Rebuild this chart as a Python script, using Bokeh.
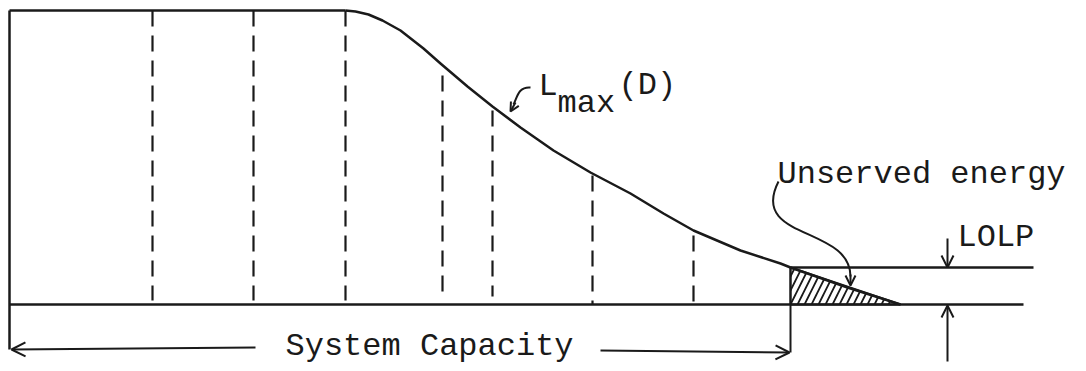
from bokeh.plotting import figure
from bokeh.models import Range1d, Arrow, OpenHead
from bokeh.core.properties import value
from bokeh.embed import file_html
from bokeh.resources import INLINE

# ---- data (diagram units: x = capacity, y = load, y grows downward) ----
top_y = 10
base_y = 304
left_x = 9
flat_end_x = 345

curve_x = [345, 355, 368, 382, 400, 423, 440, 467, 492, 520, 553, 590, 630, 663, 693, 740, 780, 790, 847, 900]
curve_y = [10, 11, 14, 20, 30, 48, 63, 86, 106, 127, 150, 172, 193, 213, 230, 250, 263, 267, 287, 304]

divider_x = [152, 253, 345, 442, 492, 592, 693]
divider_top = [10, 10, 10, 75, 110, 175, 235]
divider_bottom = [300, 300, 300, 294, 296, 304, 304]

capacity_x = 790
lolp_y = 267
lolp_line_end = 1033
base_line_end = 1023
lolp_arrow_x = 947

hatch_x = [790, 900, 790]
hatch_y = [267, 304, 304]

labels = ["System Capacity", "Unserved energy", "LOLP", "L", "max", "(D)"]
label_x = [285, 777, 957, 538, 557, 618]
label_y = [346, 174, 237, 86, 103, 85]

FONT = value("Liberation Mono")
INK = "#1a1a1a"

p = figure(width=1086, height=371, output_backend="svg", toolbar_location=None,
           x_range=Range1d(0, 1086), y_range=Range1d(371, 0), min_border=0)
p.axis.visible = False
p.grid.visible = False
p.outline_line_color = None
p.background_fill_color = "white"
p.border_fill_color = "white"

# hatched unserved energy region
p.patch(hatch_x, hatch_y, fill_color="white", line_color=INK, line_width=2,
        hatch_pattern="/", hatch_scale=14, hatch_weight=1.8, hatch_color=INK)

# frame lines
p.line([left_x, left_x], [top_y, 349], line_color=INK, line_width=2.5)
p.line([left_x, flat_end_x], [top_y, top_y], line_color=INK, line_width=2.5)
p.line([left_x, base_line_end], [base_y, base_y], line_color=INK, line_width=2.5)
p.line(curve_x, curve_y, line_color=INK, line_width=2.5, line_join="round")
p.line([capacity_x, lolp_line_end], [lolp_y, lolp_y], line_color=INK, line_width=2.5)
p.line([capacity_x, capacity_x], [lolp_y, 352], line_color=INK, line_width=2)

# dashed dividers
p.segment(x0=divider_x, y0=divider_top, x1=divider_x, y1=divider_bottom,
          line_color=INK, line_width=2.2, line_dash="16 9")

# System capacity arrows
p.add_layout(Arrow(end=OpenHead(size=14, line_width=2, line_color=INK),
                   x_start=255, y_start=347, x_end=11, y_end=349,
                   line_color=INK, line_width=2))
p.add_layout(Arrow(end=OpenHead(size=14, line_width=2, line_color=INK),
                   x_start=600, y_start=350, x_end=789, y_end=352,
                   line_color=INK, line_width=2))

# LOLP arrows
p.add_layout(Arrow(end=OpenHead(size=12, line_width=2, line_color=INK),
                   x_start=lolp_arrow_x, y_start=238, x_end=lolp_arrow_x, y_end=lolp_y,
                   line_color=INK, line_width=2))
p.add_layout(Arrow(end=OpenHead(size=12, line_width=2, line_color=INK),
                   x_start=lolp_arrow_x, y_start=361, x_end=lolp_arrow_x, y_end=base_y + 1,
                   line_color=INK, line_width=2))

# curved pointer for unserved energy
p.bezier(x0=[778], y0=[181], x1=[850], y1=[276], cx0=[748], cy0=[240], cx1=[850], cy1=[225],
         line_color=INK, line_width=2)
p.add_layout(Arrow(end=OpenHead(size=10, line_width=2, line_color=INK),
                   x_start=850, y_start=274, x_end=850, y_end=285,
                   line_color=INK, line_width=2))

# curved pointer for L_max(D)
p.bezier(x0=[530], y0=[87], x1=[513], y1=[104], cx0=[518], cy0=[86], cx1=[517], cy1=[96],
         line_color=INK, line_width=2)
p.add_layout(Arrow(end=OpenHead(size=9, line_width=2, line_color=INK),
                   x_start=515, y_start=102, x_end=510, y_end=111,
                   line_color=INK, line_width=2))

# texts
p.text(x=label_x, y=label_y, text=labels, text_font=FONT, text_font_size="32px",
       text_color=INK, text_baseline="alphabetic", text_align="left")

open("out.html", "w").write(file_html(p, INLINE))
